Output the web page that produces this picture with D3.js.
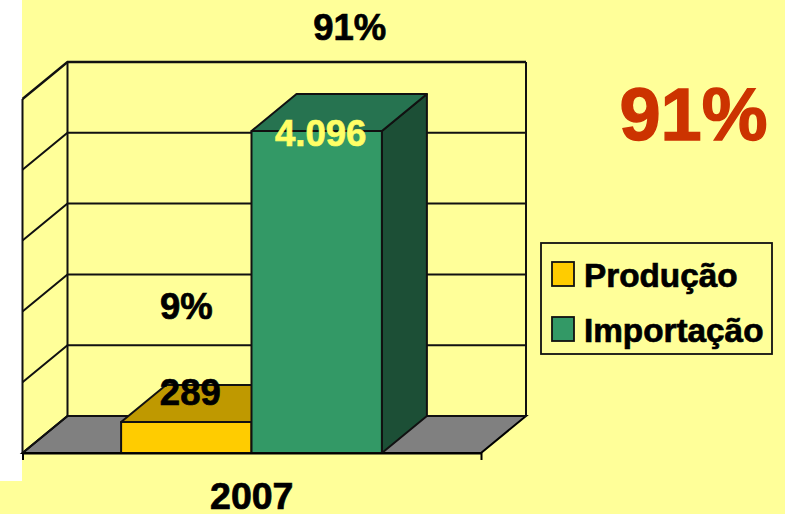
<!DOCTYPE html>
<html>
<head>
<meta charset="utf-8">
<script src="https://d3js.org/d3.v7.min.js"></script>
<style>
 html, body { margin: 0; padding: 0; background: #fff; overflow: hidden; }
 svg { display: block; }
 text { font-family: "Liberation Sans", Arial, sans-serif; font-weight: bold; stroke-width: 0.7px; }
 .axis path, .axis line { stroke: #000; stroke-width: 2; fill: none; }
 .axis .tick line { display: none; }
 .axis text { font-size: 37.5px; fill: #000; stroke: #000; font-family: "Liberation Sans", Arial, sans-serif; font-weight: bold; }
</style>
</head>
<body>
<script type="text/javascript">
 var categories = ["2007"];
 var series = ["Produção", "Importação"];
 var values = [289, 4096];
 var valueLabels = ["289", "4.096"];
 var shareLabels = ["9%", "91%"];
 var gridLevels = [0, 1, 2, 3, 4, 5];
 var frontColors = ["#FFCC00", "#339966"];
 var topColors = ["#BF9900", "#267350"];
 var sideColors = ["#806600", "#1C4F36"];

 var W = 785, H = 514;
 var depth = {x: 45, y: -37};
 var floorY = 453, x0 = 22.5, x1 = 481;

 // the picture's bars sit on a floor a little under zero
 var y = d3.scaleLinear().domain([-116, 4515]).range([floorY, 99]);
 var grid = d3.scaleLinear().domain([0, 5]).range([floorY, 99]);
 var xCat = d3.scaleBand().domain(categories).range([x0, x1]);
 var x = d3.scaleBand().domain(series).range([22, x1]).paddingInner(0).paddingOuter(0.76);
 var color = d3.scaleOrdinal().domain(series).range(frontColors);

 var svg = d3.select("body").append("svg")
    .attr("width", W)
    .attr("height", H);

 // slide background with the white strip on the left
 svg.append("rect").attr("width", W).attr("height", H).attr("fill", "#fff");
 svg.append("rect").attr("x", 22).attr("width", W - 22).attr("height", H).attr("fill", "#FFFF99");
 svg.append("rect").attr("y", 481).attr("width", W).attr("height", H - 481).attr("fill", "#FFFF99");

 function pts(a) { return a.map(function(p) { return p.join(","); }).join(" "); }

 // floor
 svg.append("polygon")
    .attr("points", pts([[x0, floorY], [x1, floorY], [x1 + depth.x, floorY + depth.y], [x0 + depth.x, floorY + depth.y]]))
    .attr("fill", "#808080")
    .attr("stroke", "#000")
    .attr("stroke-width", 2);

 // walls and gridlines
 var walls = svg.append("g").attr("class", "grid").attr("fill", "none").attr("stroke", "#111");
 walls.selectAll(".back")
    .data(gridLevels)
    .enter()
    .append("polyline")
    .attr("points", function(d) {
        return pts([[x0, grid(d)], [x0 + depth.x, grid(d) + depth.y], [x1 + depth.x, grid(d) + depth.y]]);
    })
    .attr("stroke-width", function(d) { return d == 5 ? 2.4 : 2; });
 walls.append("line")
    .attr("x1", x0).attr("x2", x0)
    .attr("y1", grid(5)).attr("y2", floorY)
    .attr("stroke-width", 2);
 walls.append("line")
    .attr("x1", x0 + depth.x).attr("x2", x0 + depth.x)
    .attr("y1", grid(5) + depth.y).attr("y2", floorY + depth.y)
    .attr("stroke-width", 2);
 walls.append("line")
    .attr("x1", x1 + depth.x).attr("x2", x1 + depth.x)
    .attr("y1", grid(5) + depth.y).attr("y2", floorY + depth.y)
    .attr("stroke-width", 2);

 // 3d bars
 var bars = svg.selectAll(".bar")
    .data(series)
    .enter()
    .append("g")
    .attr("class", "bar")
    .attr("stroke", "#111")
    .attr("stroke-width", 2)
    .attr("stroke-linejoin", "round");

 bars.append("polygon")
    .attr("points", function(d, i) {
        var r = x(d) + x.bandwidth(), t = y(values[i]);
        return pts([[r, t], [r + depth.x, t + depth.y], [r + depth.x, floorY + depth.y], [r, floorY]]);
    })
    .attr("fill", function(d, i) { return sideColors[i]; });
 bars.append("polygon")
    .attr("points", function(d, i) {
        var l = x(d), r = l + x.bandwidth(), t = y(values[i]);
        return pts([[l, t], [l + depth.x, t + depth.y], [r + depth.x, t + depth.y], [r, t]]);
    })
    .attr("fill", function(d, i) { return topColors[i]; });
 bars.append("rect")
    .attr("x", function(d) { return x(d); })
    .attr("y", function(d, i) { return y(values[i]); })
    .attr("width", x.bandwidth())
    .attr("height", function(d, i) { return floorY - y(values[i]); })
    .attr("fill", function(d) { return color(d); });

 // category axis, outer ticks only
 svg.append("g")
    .attr("class", "axis")
    .attr("transform", "translate(0," + floorY + ")")
    .call(d3.axisBottom(xCat).tickSizeInner(0).tickSizeOuter(7).tickPadding(29));

 // value labels
 var labelDy = [-17, 15], labelFill = ["#000", "#FFFF66"];
 svg.selectAll(".value")
    .data(series)
    .enter()
    .append("text")
    .attr("class", "value")
    .attr("x", function(d, i) { return x(d) + x.bandwidth() / 2 + 4; })
    .attr("y", function(d, i) { return y(values[i]) + labelDy[i]; })
    .attr("text-anchor", "middle")
    .attr("font-size", "36.5px")
    .attr("fill", function(d, i) { return labelFill[i]; })
    .attr("stroke", function(d, i) { return labelFill[i]; })
    .text(function(d, i) { return valueLabels[i]; });

 // share labels above the bars
 var shareDy = [-103, -91];
 svg.selectAll(".share")
    .data(series)
    .enter()
    .append("text")
    .attr("class", "share")
    .attr("x", function(d, i) { return x(d) + x.bandwidth() / 2 + (i == 0 ? 0 : 33); })
    .attr("y", function(d, i) { return y(values[i]) + shareDy[i]; })
    .attr("text-anchor", "middle")
    .attr("font-size", "36.5px")
    .attr("fill", "#000")
    .attr("stroke", "#000")
    .text(function(d, i) { return shareLabels[i]; });

 // big share
 svg.append("text")
    .attr("x", 693.5)
    .attr("y", 140)
    .attr("text-anchor", "middle")
    .attr("font-size", "74px")
    .attr("fill", "#CC3300")
    .attr("stroke", "#CC3300")
    .style("stroke-width", "1.4px")
    .text(shareLabels[1]);

 // legend
 var legend = svg.append("g").attr("class", "legend").attr("transform", "translate(541,243)");
 legend.append("rect")
    .attr("width", 231)
    .attr("height", 111)
    .attr("fill", "#FFFF99")
    .attr("stroke", "#111")
    .attr("stroke-width", 1.8);
 var items = legend.selectAll(".item")
    .data(series)
    .enter()
    .append("g")
    .attr("class", "item")
    .attr("transform", function(d, i) { return "translate(11," + (19 + i * 55) + ")"; });
 items.append("rect")
    .attr("width", 22)
    .attr("height", 24)
    .attr("fill", function(d) { return color(d); })
    .attr("stroke", "#111")
    .attr("stroke-width", 1.8);
 items.append("text")
    .attr("x", 32)
    .attr("y", 25)
    .attr("font-size", "33.3px")
    .attr("fill", "#000")
    .attr("stroke", "#000")
    .text(function(d) { return d; });
</script>
</body>
</html>
